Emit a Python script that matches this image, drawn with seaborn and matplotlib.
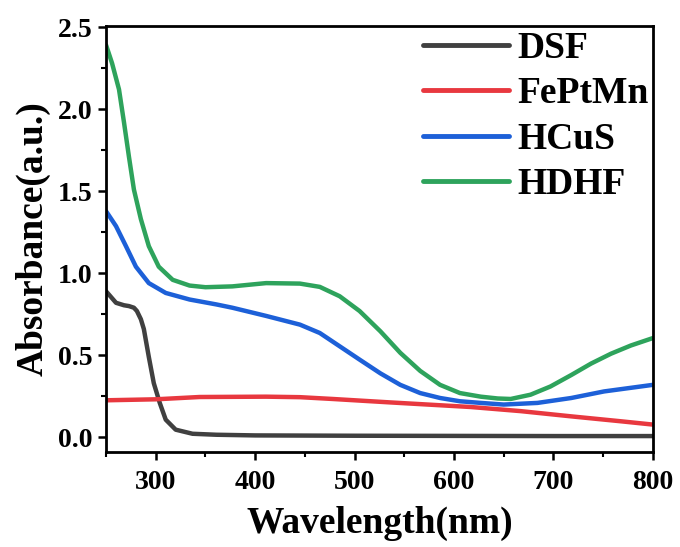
import numpy as np
import pandas as pd
import matplotlib
matplotlib.use("Agg")
import matplotlib.pyplot as plt
from matplotlib.ticker import MultipleLocator
import seaborn as sns

# ---- data ----
dsf_x = [250, 260, 268, 273, 278, 281, 285, 288, 293, 298, 304, 310, 320, 337, 361, 400, 500, 600, 700, 800]
dsf_y = [0.89, 0.82, 0.805, 0.80, 0.79, 0.77, 0.72, 0.66, 0.49, 0.33, 0.21, 0.108, 0.047, 0.022, 0.016, 0.012,
         0.010, 0.009, 0.008, 0.008]

fep_x = [250, 300, 344, 411, 445, 478, 536, 617, 667, 718, 768, 800]
fep_y = [0.226, 0.232, 0.246, 0.248, 0.245, 0.234, 0.213, 0.185, 0.16, 0.128, 0.098, 0.078]

hcus_x = [250, 260, 270, 280, 293, 310, 334, 361, 377, 411, 445, 465, 485, 505, 526, 546, 566, 586, 606, 627,
          650, 684, 718, 751, 800]
hcus_y = [1.378, 1.287, 1.165, 1.04, 0.94, 0.88, 0.84, 0.81, 0.79, 0.74, 0.687, 0.636, 0.555, 0.474, 0.39, 0.32,
          0.27, 0.24, 0.22, 0.21, 0.20, 0.21, 0.24, 0.28, 0.32]

hdhf_x = [250, 256, 263, 268, 273, 278, 285, 293, 303, 317, 334, 350, 377, 411, 445, 465, 485, 505, 526, 546,
          566, 586, 606, 627, 644, 657, 677, 697, 718, 738, 758, 778, 800]
hdhf_y = [2.39, 2.28, 2.12, 1.92, 1.71, 1.51, 1.33, 1.165, 1.04, 0.96, 0.925, 0.915, 0.92, 0.94, 0.937, 0.917,
          0.86, 0.77, 0.646, 0.515, 0.405, 0.32, 0.27, 0.248, 0.237, 0.234, 0.26, 0.31, 0.38, 0.45, 0.51, 0.56, 0.605]

samples = ["DSF", "FePtMn", "HCuS", "HDHF"]
colors = ["#404040", "#e8383f", "#1d60d8", "#2ea35c"]

xticks = [300, 400, 500, 600, 700, 800]
yticks = [0.0, 0.5, 1.0, 1.5, 2.0, 2.5]

frames = []
for name, xs, ys in [("DSF", dsf_x, dsf_y), ("FePtMn", fep_x, fep_y),
                     ("HCuS", hcus_x, hcus_y), ("HDHF", hdhf_x, hdhf_y)]:
    frames.append(pd.DataFrame({"Wavelength": xs, "Absorbance": ys, "Sample": name}))
df = pd.concat(frames, ignore_index=True)

sns.set_theme(style="ticks")
plt.rcParams["font.family"] = ["Liberation Serif", "DejaVu Serif"]
plt.rcParams["font.weight"] = "bold"
plt.rcParams["text.color"] = "black"
plt.rcParams["axes.labelcolor"] = "black"
plt.rcParams["xtick.color"] = "black"
plt.rcParams["ytick.color"] = "black"
plt.rcParams["axes.edgecolor"] = "black"

fig = plt.figure(figsize=(6.8, 5.47), dpi=100)
ax = fig.add_axes([0.156, 0.174, 0.804, 0.778])

sns.lineplot(data=df, x="Wavelength", y="Absorbance", hue="Sample",
             hue_order=samples, palette=colors, linewidth=3.2,
             estimator=None, ax=ax)

ax.set_xlim(250, 800)
ax.set_ylim(-0.088, 2.505)
ax.set_xticks(xticks)
ax.set_xticklabels([str(t) for t in xticks])
ax.set_yticks(yticks)
ax.set_yticklabels([f"{t:.1f}" for t in yticks])
ax.xaxis.set_minor_locator(MultipleLocator(50))
ax.yaxis.set_minor_locator(MultipleLocator(0.25))

for s in ax.spines.values():
    s.set_visible(True)
    s.set_linewidth(2.0)
    s.set_color("black")

ax.tick_params(which="major", direction="out", length=6, width=1.8,
               labelsize=20, colors="black", labelcolor="black")
ax.tick_params(axis="x", which="major", pad=7)
ax.tick_params(axis="y", which="major", pad=4)
ax.tick_params(which="minor", direction="out", length=3.5, width=1.5, colors="black")
for lab in ax.get_xticklabels() + ax.get_yticklabels():
    lab.set_fontweight("bold")
    lab.set_color("black")

ax.set_xlabel("Wavelength(nm)", fontsize=27, fontweight="bold", labelpad=8, color="black")
ax.set_ylabel("Absorbance(a.u.)", fontsize=27, fontweight="bold", labelpad=5, color="black")

handles, labels = ax.get_legend_handles_labels()
leg = ax.legend(handles, labels, loc="upper right", bbox_to_anchor=(1.0, 1.0),
                frameon=False, borderaxespad=0.0, borderpad=0.12,
                handlelength=2.3, handletextpad=0.2, labelspacing=0.28,
                prop={"family": "Liberation Serif", "weight": "bold", "size": 27})
for line in leg.get_lines():
    line.set_linewidth(3.5)
for t in leg.get_texts():
    t.set_color("black")

fig.savefig("out.png", dpi=100)
